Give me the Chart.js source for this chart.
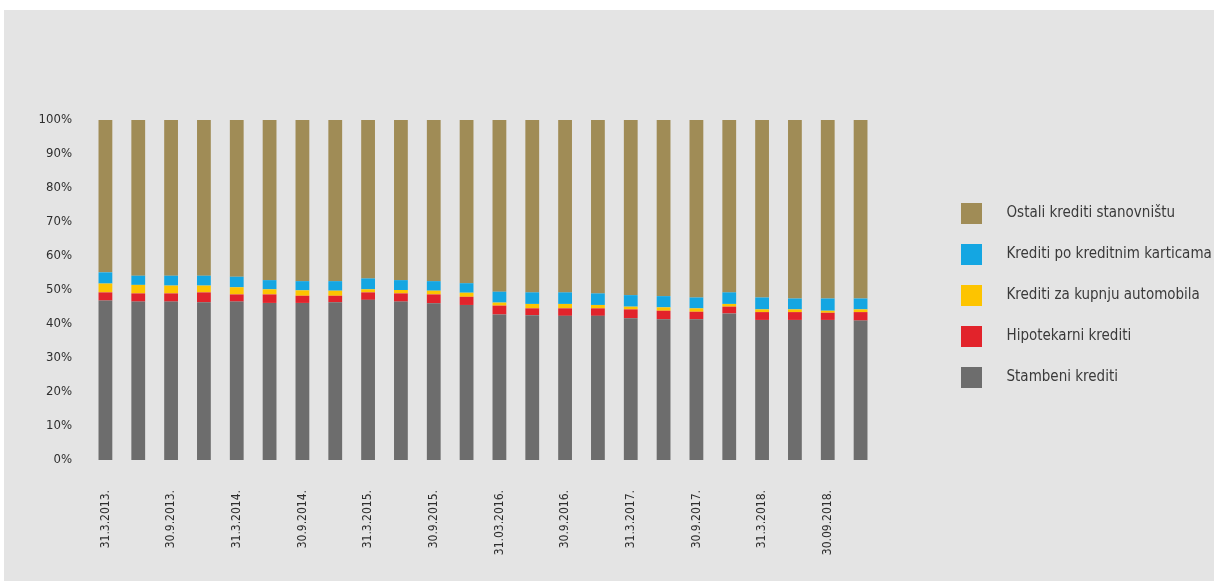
<!DOCTYPE html>
<html>
<head>
<meta charset="utf-8">
<script src="https://cdn.jsdelivr.net/npm/chart.js@4.4.1/dist/chart.umd.min.js"></script>
<style>
  html, body { margin: 0; padding: 0; background: #ffffff; overflow: hidden; }
  #wrap { position: absolute; left: 4px; top: 10px; width: 1210px; height: 571px; background: #e4e4e4; }
</style>
</head>
<body>
<div id="wrap"><canvas id="chart" width="1210" height="571"></canvas></div>
<script>
// quarters, only every second one is labelled on the axis
const periods = [
    '31.3.2013.', '', '30.9.2013.', '', '31.3.2014.', '', '30.9.2014.', '',
    '31.3.2015.', '', '30.9.2015.', '', '31.03.2016.', '', '30.9.2016.', '',
    '31.3.2017.', '', '30.9.2017.', '', '31.3.2018.', '', '30.09.2018.', ''
];

// shares in %
const stambeni = [46.9, 46.6, 46.6, 46.4, 46.6, 46.2, 46.2, 46.4, 47.1, 46.6, 46.1, 45.6,
                  42.8, 42.6, 42.4, 42.4, 41.7, 41.4, 41.4, 43.1, 41.2, 41.2, 41.2, 41.0];
const hipotekarni = [2.4, 2.4, 2.4, 2.9, 2.1, 2.5, 2.1, 1.9, 2.2, 2.4, 2.6, 2.4,
                     2.6, 2.0, 2.2, 2.2, 2.6, 2.5, 2.2, 2.0, 2.3, 2.3, 2.1, 2.5];
const automobili = [2.6, 2.5, 2.3, 2.0, 2.1, 1.5, 1.6, 1.5, 0.9, 1.0, 1.1, 1.2,
                    0.9, 1.3, 1.3, 1.0, 0.8, 1.0, 1.0, 0.8, 0.8, 0.8, 0.6, 0.8];
const kartice = [3.3, 2.7, 2.9, 2.9, 3.1, 2.7, 2.7, 2.8, 3.2, 2.9, 2.8, 2.8,
                 3.2, 3.4, 3.4, 3.4, 3.4, 3.3, 3.2, 3.4, 3.5, 3.2, 3.6, 3.2];
const ostali = [44.8, 45.8, 45.8, 45.8, 46.1, 47.1, 47.4, 47.4, 46.6, 47.1, 47.4, 48.0,
                50.5, 50.7, 50.7, 51.0, 51.5, 51.8, 52.2, 50.7, 52.2, 52.5, 52.5, 52.5];

const seriesNames = ['Stambeni krediti', 'Hipotekarni krediti', 'Krediti za kupnju automobila',
                     'Krediti po kreditnim karticama', 'Ostali krediti stanovništu'];
const seriesColors = ['#6d6d6d', '#e2232b', '#fdc400', '#14a6e2', '#a08c56'];
const seriesData = [stambeni, hipotekarni, automobili, kartice, ostali];

const narrow = "'Liberation Sans Narrow', 'DejaVu Sans Condensed', sans-serif";

// square legend swatch
function swatch(color) {
    var c = document.createElement('canvas');
    c.width = 21;
    c.height = 21;
    var g = c.getContext('2d');
    g.fillStyle = color;
    g.fillRect(0, 0, 21, 21);
    return c;
}

// invisible axis, only used to reserve space
function spacer(position, size) {
    return {
        position: position,
        display: true,
        grid: { display: false, drawTicks: false },
        border: { display: false },
        ticks: { display: false },
        afterFit: (s) => {
            if (position === 'top') s.height = size
            else s.width = size
        },
    }
}

var ctx = document.getElementById('chart').getContext('2d');
window.loanChart = new Chart(ctx, {
    type: 'bar',
    data: {
        labels: periods,
        datasets: seriesData.map((d, i) => ({
            label: seriesNames[i],
            data: d,
            backgroundColor: seriesColors[i],
            borderWidth: 0,
            barPercentage: 0.42,
            categoryPercentage: 1.0,
        })),
    },
    options: {
        responsive: false,
        animation: false,
        layout: { padding: 0 },
        scales: {
            x: {
                stacked: true,
                grid: { display: false, drawTicks: false },
                border: { display: false },
                ticks: {
                    autoSkip: false,
                    maxRotation: 90,
                    minRotation: 90,
                    padding: 30,
                    color: '#2e2e2e',
                    font: { family: narrow, size: 12 },
                },
                afterFit: (s) => { s.height = 121; },
            },
            y: {
                stacked: true,
                min: 0,
                max: 100,
                grid: { display: false, drawTicks: false },
                border: { display: false },
                ticks: {
                    stepSize: 10,
                    padding: 17,
                    color: '#2e2e2e',
                    font: { family: narrow, size: 13 },
                    callback: (v) => v + '%',
                },
                afterFit: (s) => { s.width = 85; },
            },
            topGap: Object.assign({ axis: 'x', type: 'category' }, spacer('top', 110)),
            rightGap: Object.assign({ axis: 'y', type: 'linear' }, spacer('right', 40)),
        },
        plugins: {
            tooltip: { enabled: false },
            legend: {
                position: 'right',
                reverse: true,
                maxWidth: 297,
                labels: {
                    usePointStyle: true,
                    pointStyleWidth: 56,
                    padding: 26,
                    color: '#3a3a3a',
                    font: { family: narrow, size: 15 },
                    generateLabels: (chart) => {
                        const items = Chart.defaults.plugins.legend.labels.generateLabels(chart);
                        items.forEach((it) => { it.pointStyle = swatch(it.fillStyle); });
                        return items;
                    },
                },
            },
        },
    },
});
</script>
</body>
</html>
